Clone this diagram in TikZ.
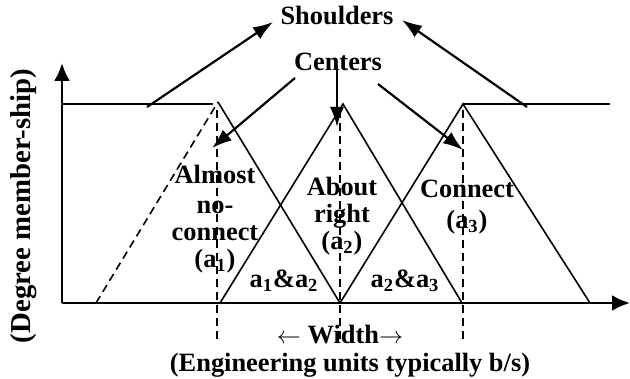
\documentclass[tikz,border=0pt]{standalone}
\usepackage{fontspec}
\setmainfont{Liberation Serif}
\usetikzlibrary{arrows.meta}

\begin{document}
\begin{tikzpicture}[
    x=0.5pt, y=-0.5pt,
    % Texto en negrita
    lbl/.style={font=\fontsize{13.2}{13.5}\selectfont\bfseries, align=center, inner sep=0pt},
    % Funciones de pertenencia
    mf/.style={line width=0.8pt},
    guide/.style={line width=0.8pt, dash pattern=on 4pt off 2.5pt},
    % Flechas de las etiquetas
    pointer/.style={line width=1.1pt, -{Latex[length=10pt,width=7pt]}},
    axis/.style={line width=1.3pt, -{Latex[length=9pt,width=8pt]}}
]
    \useasboundingbox (0,0) rectangle (630,379);

    % ==========================================
    % EJES
    % ==========================================
    \coordinate (origin) at (62,303);
    \coordinate (ytip) at (62,63);
    \coordinate (xtip) at (630,303);
    \draw[axis] (origin) -- (ytip);
    \draw[axis] (origin) -- (xtip);

    % ==========================================
    % FUNCIONES
    % ==========================================
    \draw[mf] (62,104) -- (213,104);              % hombro izquierdo
    \draw[guide] (96,303) -- (218,102);           % lado izquierdo punteado
    \draw[mf] (218,102) -- (340,303);             % a1
    \draw[mf] (220,303) -- (343,104) -- (462,303); % a2
    \draw[mf] (340,303) -- (463,104) -- (590,303); % a3
    \draw[mf] (463,104) -- (610,104);             % hombro derecho

    % Centros
    \draw[guide] (217,110) -- (217,343);
    \draw[guide] (340,110) -- (340,343);
    \draw[guide] (463,110) -- (463,343);

    % ==========================================
    % ETIQUETAS
    % ==========================================
    \node[lbl] (shoulders) at (337,16) {Shoulders};
    \node[lbl] (centers) at (338,62) {Centers};

    \node[lbl] (almost) at (215,219) {Almost\\[1.5pt]no-\\connect\\(a\textsubscript{1})};
    \node[lbl] (about) at (342,216) {About\\right\\(a\textsubscript{2})};
    \node[lbl] (connect) at (467,207) {Connect\\[2pt](a\textsubscript{3})};

    \node[lbl] (a12) at (284,281) {a\textsubscript{1}\&a\textsubscript{2}};
    \node[lbl] (a23) at (405,281) {a\textsubscript{2}\&a\textsubscript{3}};

    \node[lbl] (width) at (340,335) {$\leftarrow$ Width$\rightarrow$};
    \node[lbl] (units) at (350,365) {(Engineering units typically b/s)};
    \node[lbl, font=\fontsize{14.4}{15}\selectfont\bfseries, rotate=90] (degree) at (24,206) {(Degree member-ship)};

    % Flechas hacia los hombros
    \coordinate (shL) at (147,107);
    \coordinate (shR) at (527,107);
    \coordinate (shLtip) at (273,22);
    \coordinate (shRtip) at (402,20);
    \draw[pointer] (shL) -- (shLtip);
    \draw[pointer] (shR) -- (shRtip);

    % Flechas hacia los centros
    \coordinate (ceA) at (295,78);
    \coordinate (ceB) at (337,68);
    \coordinate (ceC) at (378,84);
    \coordinate (ceAtip) at (212,148);
    \coordinate (ceBtip) at (337,127);
    \coordinate (ceCtip) at (463,150);
    \draw[pointer] (ceA) -- (ceAtip);
    \draw[pointer] (ceB) -- (ceBtip);
    \draw[pointer] (ceC) -- (ceCtip);

\end{tikzpicture}
\end{document}
